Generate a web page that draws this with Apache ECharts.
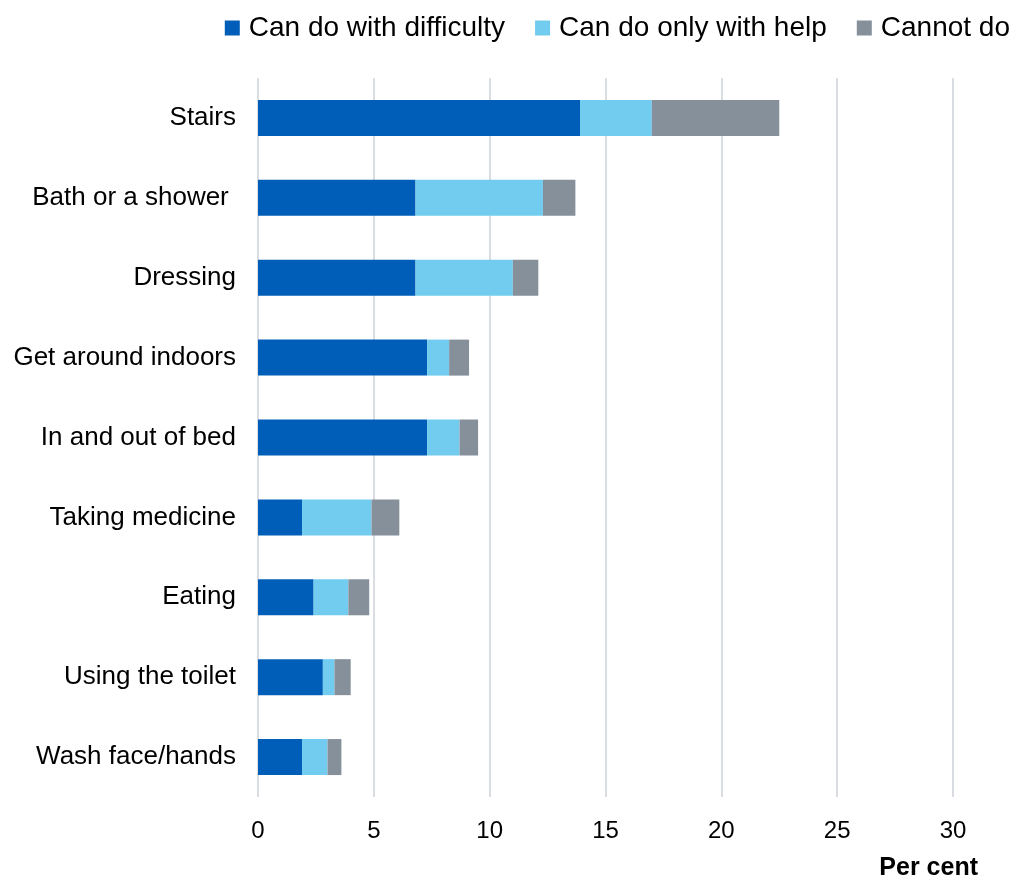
<!DOCTYPE html>
<html>
<head>
<meta charset="utf-8">
<script src="https://cdn.jsdelivr.net/npm/echarts@6/dist/echarts.min.js"></script>
<style>
  html, body { margin: 0; padding: 0; background: #fff; }
  #container { width: 1019px; height: 884px; }
</style>
</head>
<body>
<div id="container"></div>
<script>
var categories = ['Stairs', 'Bath or a shower ', 'Dressing', 'Get around indoors', 'In and out of bed',
    'Taking medicine', 'Eating', 'Using the toilet', 'Wash face/hands']
var withDifficulty = [13.9, 6.8, 6.8, 7.3, 7.3, 1.9, 2.4, 2.8, 1.9]
var onlyWithHelp = [3.1, 5.5, 4.2, 0.95, 1.4, 3.0, 1.5, 0.5, 1.1]
var cannotDo = [5.5, 1.4, 1.1, 0.86, 0.8, 1.2, 0.9, 0.7, 0.6]
var seriesNames = ['Can do with difficulty', 'Can do only with help', 'Cannot do']
var colours = ['#005EB8', '#72CCEF', '#85909B']

var font = 'Liberation Sans, Arial, sans-serif'

function makeSeries(name, data, colour) {
    return {
        name: name,
        type: 'bar',
        stack: 'total',
        data: data,
        barWidth: 36,
        itemStyle: { color: colour },
        emphasis: { disabled: true }
    }
}

var myChart = echarts.init(document.getElementById('container'))
myChart.setOption({
    animation: false,
    textStyle: { fontFamily: font },
    title: {
        text: 'Per cent',
        right: 36,
        bottom: -2,
        textStyle: { fontSize: 25, fontWeight: 'bold', color: '#000', fontFamily: font }
    },
    legend: {
        right: 4,
        top: 9,
        itemWidth: 15,
        itemHeight: 15,
        itemGap: 30,
        icon: 'rect',
        textStyle: { fontSize: 28, color: '#000', fontFamily: font, padding: [0, 0, 0, 4] },
        data: seriesNames
    },
    grid: {
        left: 258,
        right: 66,
        top: 78,
        bottom: 87,
        containLabel: false
    },
    xAxis: {
        type: 'value',
        min: 0,
        max: 30,
        interval: 5,
        axisLine: { show: false },
        axisTick: { show: false },
        axisLabel: { fontSize: 24, color: '#000', margin: 22 },
        splitLine: { lineStyle: { color: '#d9dce1', width: 2 } }
    },
    yAxis: {
        type: 'category',
        inverse: true,
        data: categories,
        axisLine: { show: false },
        axisTick: { show: false },
        axisLabel: { fontSize: 26, color: '#000', margin: 22 }
    },
    series: [
        makeSeries(seriesNames[0], withDifficulty, colours[0]),
        makeSeries(seriesNames[1], onlyWithHelp, colours[1]),
        makeSeries(seriesNames[2], cannotDo, colours[2])
    ]
})
</script>
</body>
</html>
